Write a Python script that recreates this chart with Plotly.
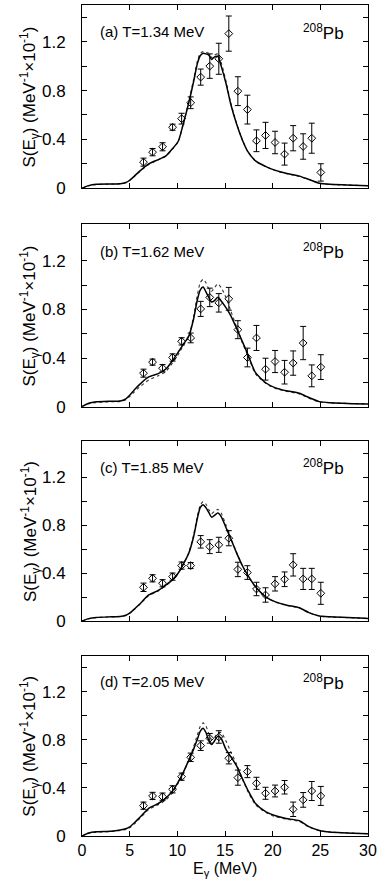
import plotly.graph_objects as go
from plotly.subplots import make_subplots

# ---- data ----
E_curve = [0, 0.7, 1.5, 3, 4.0, 4.6, 5.0, 5.5, 6, 7, 8, 8.8, 9.5, 10.1, 10.6, 11.2, 11.7, 12.1,
           12.4, 12.7, 13.0, 13.3, 13.6, 13.9, 14.25, 14.6, 15.1, 15.6, 16.2, 16.8, 17.4, 18.2,
           19.3, 20.3, 21.4, 22.8, 23.8, 24.9, 26, 30]

solid_a = [0, 0.022, 0.033, 0.035, 0.037, 0.047, 0.066, 0.10, 0.137, 0.20, 0.235, 0.265, 0.325,
           0.385, 0.52, 0.70, 0.87, 1.02, 1.085, 1.105, 1.10, 1.09, 1.055, 1.075, 1.08, 1.0, 0.86,
           0.69, 0.53, 0.40, 0.30, 0.225, 0.178, 0.147, 0.123, 0.10, 0.073, 0.042, 0.033, 0.022]
dot_a = [0, 0.021, 0.031, 0.034, 0.037, 0.046, 0.064, 0.098, 0.133, 0.195, 0.232, 0.262, 0.322,
         0.383, 0.52, 0.71, 0.89, 1.04, 1.105, 1.12, 1.115, 1.105, 1.07, 1.09, 1.10, 1.03, 0.88,
         0.70, 0.535, 0.40, 0.298, 0.222, 0.176, 0.145, 0.121, 0.098, 0.071, 0.041, 0.032, 0.022]

solid_b = [0, 0.028, 0.04, 0.045, 0.047, 0.065, 0.095, 0.14, 0.18, 0.245, 0.272, 0.31, 0.38, 0.45,
           0.51, 0.58, 0.72, 0.88, 0.96, 0.985, 0.945, 0.90, 0.862, 0.874, 0.90, 0.87, 0.815,
           0.75, 0.648, 0.54, 0.43, 0.28, 0.195, 0.155, 0.132, 0.11, 0.076, 0.042, 0.033, 0.022]
dot_b = [0, 0.024, 0.035, 0.04, 0.044, 0.058, 0.083, 0.122, 0.16, 0.22, 0.255, 0.29, 0.36, 0.43,
         0.50, 0.58, 0.74, 0.92, 1.02, 1.048, 1.02, 0.97, 0.95, 0.98, 1.012, 0.98, 0.90, 0.79,
         0.66, 0.53, 0.42, 0.27, 0.19, 0.15, 0.128, 0.105, 0.07, 0.04, 0.032, 0.022]

solid_c = [0, 0.02, 0.03, 0.035, 0.037, 0.048, 0.066, 0.10, 0.137, 0.217, 0.255, 0.30, 0.345,
           0.40, 0.47, 0.565, 0.70, 0.855, 0.945, 0.97, 0.945, 0.905, 0.865, 0.88, 0.90, 0.87,
           0.78, 0.685, 0.57, 0.465, 0.38, 0.285, 0.20, 0.16, 0.133, 0.11, 0.07, 0.042, 0.035, 0.022]
dot_c = [0, 0.019, 0.029, 0.034, 0.037, 0.047, 0.064, 0.098, 0.133, 0.212, 0.25, 0.296, 0.342,
         0.398, 0.47, 0.57, 0.715, 0.875, 0.965, 0.995, 0.975, 0.93, 0.895, 0.915, 0.93, 0.90,
         0.80, 0.695, 0.575, 0.465, 0.378, 0.283, 0.198, 0.158, 0.131, 0.108, 0.069, 0.041,
         0.034, 0.022]

solid_d = [0, 0.025, 0.035, 0.04, 0.05, 0.06, 0.075, 0.11, 0.15, 0.23, 0.27, 0.315, 0.375, 0.45,
           0.525, 0.63, 0.72, 0.805, 0.87, 0.895, 0.86, 0.795, 0.76, 0.79, 0.83, 0.81, 0.72, 0.66,
           0.585, 0.48, 0.38, 0.27, 0.20, 0.168, 0.146, 0.127, 0.078, 0.046, 0.033, 0.019]
dot_d = [0, 0.022, 0.032, 0.037, 0.046, 0.055, 0.068, 0.10, 0.14, 0.22, 0.26, 0.30, 0.36, 0.44,
         0.52, 0.63, 0.74, 0.84, 0.91, 0.94, 0.915, 0.85, 0.80, 0.82, 0.855, 0.86, 0.79, 0.70,
         0.60, 0.48, 0.37, 0.26, 0.195, 0.16, 0.14, 0.12, 0.075, 0.044, 0.032, 0.019]

E_data = [6.45, 7.4, 8.45, 9.5, 10.45, 11.4, 12.45, 13.4, 14.35, 15.4, 16.35, 17.35, 18.3, 19.25,
          20.25, 21.25, 22.15, 23.2, 24.1, 25.05]

data_a = [0.214, 0.296, 0.34, 0.50, 0.57, 0.70, 0.91, 1.0, 1.06, 1.266, 0.795, 0.644, 0.389, 0.433,
          0.375, 0.28, 0.41, 0.342, 0.41, 0.13]
err_a = [0.033, 0.03, 0.033, 0.025, 0.044, 0.048, 0.066, 0.10, 0.127, 0.144, 0.118, 0.118, 0.089,
         0.107, 0.092, 0.09, 0.103, 0.104, 0.123, 0.071]

data_b = [0.276, 0.367, 0.317, 0.405, 0.538, 0.566, 0.805, 0.90, 0.855, 0.888, 0.634, 0.405, 0.566,
          0.309, 0.372, 0.284, 0.359, 0.524, 0.254, 0.326]
err_b = [0.033, 0.025, 0.03, 0.03, 0.03, 0.04, 0.062, 0.076, 0.076, 0.094, 0.074, 0.077, 0.103,
         0.09, 0.091, 0.097, 0.10, 0.137, 0.09, 0.102]

data_c = [0.281, 0.356, 0.315, 0.37, 0.462, 0.462, 0.66, 0.62, 0.635, 0.69, 0.43, 0.404, 0.267,
          0.217, 0.31, 0.348, 0.468, 0.351, 0.351, 0.231]
err_c = [0.035, 0.03, 0.03, 0.03, 0.03, 0.025, 0.052, 0.058, 0.063, 0.063, 0.06, 0.057, 0.056,
         0.06, 0.06, 0.061, 0.093, 0.088, 0.088, 0.092]

data_d = [0.252, 0.333, 0.327, 0.388, 0.493, 0.654, 0.751, 0.812, 0.823, 0.646, 0.485, 0.535, 0.438,
          0.355, 0.374, 0.405, 0.222, 0.30, 0.374, 0.333]
err_d = [0.03, 0.03, 0.03, 0.03, 0.03, 0.035, 0.04, 0.04, 0.052, 0.047, 0.063, 0.05, 0.05, 0.05,
         0.049, 0.056, 0.06, 0.061, 0.079, 0.079]

labels = ["(a) T=1.34 MeV", "(b) T=1.62 MeV", "(c) T=1.85 MeV", "(d) T=2.05 MeV"]
x_ticks = [0, 5, 10, 15, 20, 25, 30]
y_ticks = [0, 0.4, 0.8, 1.2]
y_tick_text = ["0", "0.4", "0.8", "1.2"]

panels = [
    (solid_a, dot_a, data_a, err_a),
    (solid_b, dot_b, data_b, err_b),
    (solid_c, dot_c, data_c, err_c),
    (solid_d, dot_d, data_d, err_d),
]

# ---- figure ----
FONT = "Liberation Sans, Arial, Helvetica, sans-serif"
fig = make_subplots(rows=4, cols=1)
domains = [(0.7794, 1.0), (0.5166, 0.7359), (0.2587, 0.4753), (0.0, 0.2172)]

for i, (sol, dot, dat, err) in enumerate(panels):
    r = i + 1
    fig.add_trace(go.Scatter(x=E_curve, y=dot, mode="lines",
                             line=dict(color="#333", width=1.1, dash="dot", shape="spline", smoothing=0.6),
                             showlegend=False), row=r, col=1)
    fig.add_trace(go.Scatter(x=E_curve, y=sol, mode="lines",
                             line=dict(color="black", width=1.5, shape="spline", smoothing=0.6),
                             showlegend=False), row=r, col=1)
    fig.add_trace(go.Scatter(x=E_data, y=dat, mode="markers",
                             marker=dict(symbol="diamond-open", size=6, color="black",
                                         line=dict(width=1, color="black")),
                             error_y=dict(type="data", array=err, thickness=1, width=3, color="black"),
                             showlegend=False), row=r, col=1)

    ya = "yaxis" if r == 1 else f"yaxis{r}"
    fig.layout[ya].domain = domains[i]
    fig.update_xaxes(row=r, col=1, range=[0, 30], tickvals=x_ticks, automargin=False,
                     showticklabels=(r == 4), ticks="inside", ticklen=5, tickcolor="black",
                     showline=True, linecolor="black", linewidth=1, mirror="ticks",
                     showgrid=False, zeroline=False,
                     tickfont=dict(family=FONT, size=16, color="black"))
    fig.update_yaxes(row=r, col=1, range=[0, 1.5], tickvals=y_ticks, ticktext=y_tick_text,
                     automargin=False,
                     ticks="inside", ticklen=5, tickcolor="black",
                     minor=dict(dtick=0.2, tick0=0, ticks="inside", ticklen=5, tickcolor="black"),
                     showline=True, linecolor="black", linewidth=1, mirror="ticks",
                     showgrid=False, zeroline=False, ticklabelstandoff=12,
                     tickfont=dict(family=FONT, size=17, color="black"))

    xref = "x" if r == 1 else f"x{r}"
    yref = "y" if r == 1 else f"y{r}"
    fig.add_annotation(x=1.7, y=1.28, xref=xref, yref=yref, text=labels[i], showarrow=False,
                       xanchor="left", yanchor="middle",
                       font=dict(family=FONT, size=15, color="black"))
    fig.add_annotation(x=23.0, y=1.28, xref=xref, yref=yref,
                       text="<sup>208</sup>Pb", showarrow=False,
                       xanchor="left", yanchor="middle",
                       font=dict(family=FONT, size=17, color="black"))
    fig.add_annotation(x=-0.182, y=sum(domains[i]) / 2, xref="paper", yref="paper",
                       text="S(E<sub>γ</sub>) (MeV<sup>-1</sup>×10<sup>-1</sup>)",
                       textangle=-90, showarrow=False, xanchor="center", yanchor="middle",
                       font=dict(family=FONT, size=17, color="black"))

fig.add_annotation(x=0.5, y=0, xref="paper", yref="paper", yshift=-33,
                   text="E<sub>γ</sub> (MeV)", showarrow=False,
                   xanchor="center", yanchor="middle",
                   font=dict(family=FONT, size=16, color="black"))

fig.update_layout(width=380, height=882, margin=dict(l=82, r=12, t=5, b=46, autoexpand=False),
                  paper_bgcolor="white", plot_bgcolor="white", showlegend=False)

fig.write_html("out.html", config={"displayModeBar": False},
               post_script="document.body.style.margin='0px';")
